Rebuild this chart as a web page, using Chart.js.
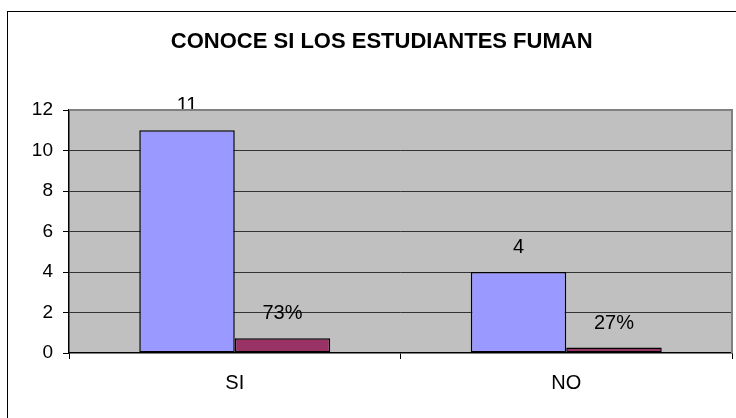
<!DOCTYPE html>
<html>
<head>
<meta charset="utf-8">
<script src="https://cdn.jsdelivr.net/npm/chart.js@4"></script>
<style>
  html, body { margin: 0; padding: 0; background: #fff; overflow: hidden; }
  #marco {
    position: absolute; left: 7px; top: 11px; width: 800px; height: 500px;
    border-left: 1.5px solid #000; border-top: 1.5px solid #000;
  }
  #grafico { position: absolute; left: 0; top: 0; }
</style>
</head>
<body>
<div id="marco"></div>
<canvas id="grafico" width="736" height="418"></canvas>
<script>
// Datos
const categorias = ['SI', 'NO'];
const cantidades = [11, 4];
const porcentajes = [0.73, 0.27];
const ticksY = [0, 2, 4, 6, 8, 10, 12];

const fuente = '"Liberation Sans", Arial, sans-serif';

// Fondo gris del area de trazado y borde
const fondoPlot = {
  id: 'fondoPlot',
  beforeDraw(chart) {
    const { ctx, chartArea: a } = chart;
    ctx.save();
    ctx.fillStyle = '#C0C0C0';
    ctx.fillRect(a.left, a.top, a.right - a.left, a.bottom - a.top);
    ctx.restore();
  },
  afterDraw(chart) {
    const { ctx, chartArea: a } = chart;
    ctx.save();
    ctx.strokeStyle = '#808080';
    ctx.lineWidth = 2;
    ctx.beginPath();
    ctx.moveTo(a.left, a.top);
    ctx.lineTo(a.right, a.top);
    ctx.lineTo(a.right, a.bottom);
    ctx.stroke();
    ctx.restore();
  }
};

// Etiquetas de datos encima de cada barra
const etiquetas = {
  id: 'etiquetas',
  afterDatasetsDraw(chart) {
    const { ctx } = chart;
    ctx.save();
    ctx.font = '20px ' + fuente;
    ctx.fillStyle = '#000';
    ctx.textAlign = 'center';
    ctx.textBaseline = 'alphabetic';
    chart.data.datasets.forEach((ds, i) => {
      chart.getDatasetMeta(i).data.forEach((bar, j) => {
        const v = ds.data[j];
        const texto = i === 0 ? String(v) : Math.round(v * 100) + '%';
        ctx.fillText(texto, bar.x, bar.y - 19);
      });
    });
    ctx.restore();
  }
};

new Chart(document.getElementById('grafico'), {
  type: 'bar',
  data: {
    labels: categorias,
    datasets: [
      {
        label: 'Cantidad',
        data: cantidades,
        backgroundColor: '#9999FF',
        borderColor: '#000',
        borderWidth: 1.5,
        borderSkipped: false
      },
      {
        label: 'Porcentaje',
        data: porcentajes,
        backgroundColor: '#993366',
        borderColor: '#000',
        borderWidth: 1.5,
        borderSkipped: false
      }
    ]
  },
  options: {
    responsive: false,
    animation: false,
    devicePixelRatio: 1,
    categoryPercentage: 0.576,
    barPercentage: 1,
    layout: { padding: { left: 31.4, right: 4, top: 0, bottom: 0 } },
    plugins: {
      legend: { display: false },
      tooltip: { enabled: false },
      title: {
        display: true,
        text: 'CONOCE SI LOS ESTUDIANTES FUMAN',
        color: '#000',
        font: { family: fuente, size: 22, weight: 'bold', lineHeight: 1.2 },
        padding: { top: 29, bottom: 54.6 }
      }
    },
    scales: {
      x: {
        offset: true,
        grid: {
          offset: true,
          drawOnChartArea: false,
          drawTicks: true,
          tickLength: 6,
          tickColor: '#000'
        },
        border: { display: true, color: '#000', width: 1.5 },
        ticks: {
          color: '#000',
          padding: 12,
          font: { family: fuente, size: 20 }
        },
        afterFit(scale) { scale.height = 65; }
      },
      y: {
        min: 0,
        max: 12,
        afterBuildTicks(scale) { scale.ticks = ticksY.map(v => ({ value: v })); },
        grid: {
          color: ctx => ctx.tick.value === 0 ? 'rgba(0,0,0,0)' : (ctx.tick.value === 12 ? '#808080' : '#333'),
          tickColor: '#000',
          tickLength: 6,
          lineWidth: 1
        },
        border: { display: true, color: '#000', width: 1.5 },
        ticks: {
          color: '#000',
          padding: 10,
          font: { family: fuente, size: 19 }
        },
        afterFit(scale) { scale.width = 69 - 31.4; }
      }
    }
  },
  plugins: [fondoPlot, etiquetas]
});
</script>
</body>
</html>
